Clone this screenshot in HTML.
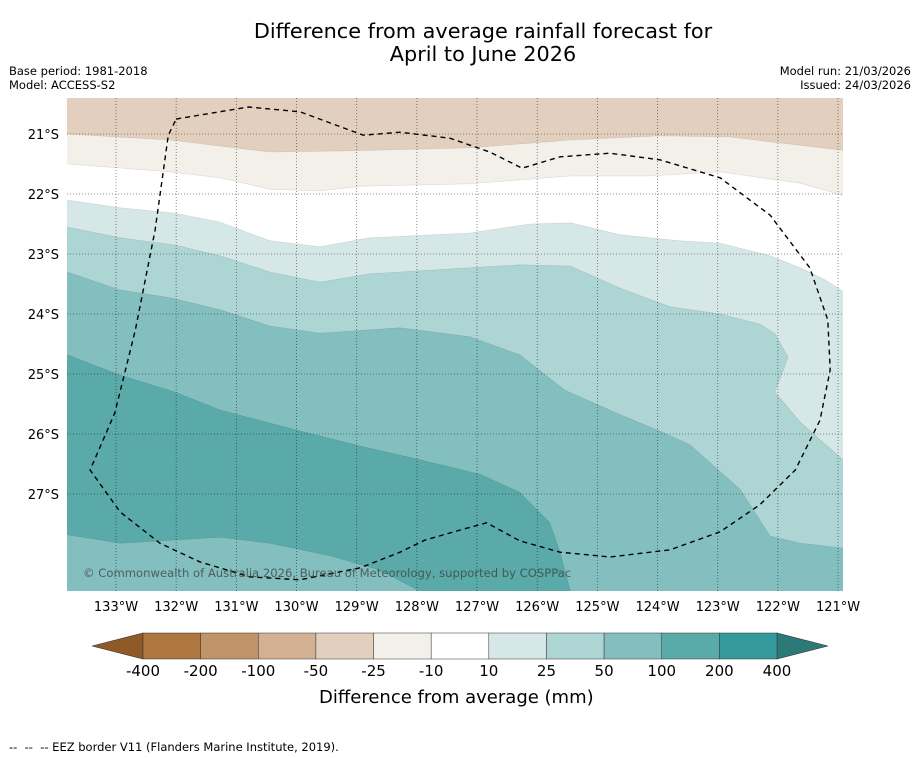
<!DOCTYPE html>
<html><head><meta charset="utf-8"><style>
body{margin:0;background:#fff;font-family:"DejaVu Sans","Liberation Sans",sans-serif;}
svg{display:block}
</style></head><body>
<svg id="c" width="919" height="758" xmlns="http://www.w3.org/2000/svg">
<text x="483" y="38" font-size="20.8" text-anchor="middle">Difference from average rainfall forecast for</text>
<text x="483" y="61" font-size="20.8" text-anchor="middle">April to June 2026</text>
<text x="9" y="75" font-size="11.5">Base period: 1981-2018</text>
<text x="9" y="89" font-size="11.5">Model: ACCESS-S2</text>
<text x="911" y="75" font-size="11.5" text-anchor="end">Model run: 21/03/2026</text>
<text x="911" y="89" font-size="11.5" text-anchor="end">Issued: 24/03/2026</text>
<g id="map"></g>
<g id="cb"></g>
<text x="319" y="703" font-size="18">Difference from average (mm)</text>
<text x="9" y="751" font-size="11.5" xml:space="preserve">--  --  -- EEZ border V11 (Flanders Marine Institute, 2019).</text>
</svg>
<script>
const lonTicks=[133,132,131,130,129,128,127,126,125,124,123,122,121];
const latTicks=[21,22,23,24,25,26,27];
const levels=["-400","-200","-100","-50","-25","-10","10","25","50","100","200","400"];
const levelColors=["#ae773f","#c19368","#d3b092","#e3cfbd","#f3efe9","#ffffff","#d5e8e7","#acd5d4","#84bfbf","#5aaaaa","#33999a"];
const b1Lon=[133.81,132.10,130.44,129.11,127.12,125.45,123.96,122.80,120.92];
const b1Lat=[21.0,21.1,21.3,21.28,21.23,21.1,21.03,21.05,21.27];
const b2Lon=[133.81,132.10,131.27,130.44,129.61,128.94,127.12,125.45,124.13,122.96,121.63,120.92];
const b2Lat=[21.5,21.63,21.73,21.92,21.95,21.87,21.83,21.7,21.7,21.63,21.82,22.02];
const b3Lon=[133.81,132.93,132.02,131.27,130.44,129.61,128.78,127.12,126.12,125.45,124.62,123.63,122.96,122.13,121.63,121.22,120.92];
const b3Lat=[22.1,22.23,22.32,22.47,22.78,22.88,22.73,22.65,22.5,22.48,22.68,22.78,22.82,23.03,23.23,23.43,23.62];
const b4Lon=[133.81,132.93,132.02,131.27,130.44,129.61,128.78,127.12,126.29,125.45,124.62,123.79,122.96,122.30,122.05,121.83,122.05,121.63,120.92];
const b4Lat=[22.55,22.73,22.85,23.03,23.3,23.47,23.33,23.23,23.18,23.2,23.57,23.88,24.0,24.17,24.33,24.72,25.3,25.8,26.43];
const b5Lon=[133.81,132.93,132.10,131.27,130.44,129.61,128.28,127.12,126.29,125.54,124.62,123.96,123.46,122.63,122.13,121.63,120.92];
const b5Lat=[23.3,23.6,23.73,23.93,24.2,24.32,24.23,24.38,24.68,25.27,25.68,25.95,26.18,26.92,27.7,27.82,27.9];
const b6Lon=[133.81,132.93,132.02,131.27,129.94,128.94,127.95,126.95,126.29,125.79,125.62,125.45];
const b6Lat=[24.68,25.02,25.3,25.6,25.95,26.2,26.43,26.67,26.97,27.48,27.97,28.62];
const b7Lon=[133.81,132.93,132.10,131.27,130.44,129.44,128.61,127.95];
const b7Lat=[27.68,27.82,27.77,27.72,27.82,28.03,28.27,28.62];
const eezLon=[132.0,130.8,129.94,128.89,128.28,127.45,126.79,126.25,125.62,124.79,123.96,122.96,122.13,121.47,121.17,121.13,121.30,121.71,122.30,122.96,123.79,124.79,125.62,126.29,126.84,127.28,127.87,128.28,128.94,129.94,130.78,131.61,132.27,132.93,133.43,133.02,132.68,132.35,132.13,132.0];
const eezLat=[20.75,20.55,20.63,21.02,20.97,21.07,21.3,21.57,21.38,21.32,21.43,21.73,22.35,23.23,24.1,24.93,25.77,26.6,27.18,27.63,27.93,28.05,27.97,27.78,27.48,27.6,27.77,27.97,28.23,28.43,28.38,28.13,27.82,27.3,26.6,25.65,24.27,22.6,21.02,20.75];

const X0=67,X1=843,Y0=98,Y1=591;
const xs=lon=>116+(133-lon)*60.17;
const ys=lat=>134+(lat-21)*60;
const NS="http://www.w3.org/2000/svg";
function mk(tag,attrs,parent){const e=document.createElementNS(NS,tag);for(const k in attrs)e.setAttribute(k,attrs[k]);parent.appendChild(e);return e;}
const map=document.getElementById('map');
const clip=mk('clipPath',{id:'mc'},map);mk('rect',{x:X0,y:Y0,width:X1-X0,height:Y1-Y0},clip);
const g=mk('g',{'clip-path':'url(#mc)'},map);
const base=mk('rect',{x:X0,y:Y0,width:X1-X0,height:Y1-Y0,fill:levelColors[3]},g);


function band(lons,lats,color,name){
  let pts=lons.map((l,i)=>xs(l).toFixed(1)+','+ys(lats[i]).toFixed(1));
  const last=lons[lons.length-1];
  pts.push(xs(last).toFixed(1)+','+(Y1+5));
  pts.push(xs(lons[0]).toFixed(1)+','+(Y1+5));
  const p=mk('polygon',{points:pts.join(' '),fill:color,stroke:'rgba(0,0,0,0.12)','stroke-width':0.6},g);
  
  
}
function ext(lons,lats){return [[133.9].concat(lons).concat([120.8]),[lats[0]].concat(lats).concat([lats[lats.length-1]])];}
let a;
a=ext(b1Lon,b1Lat);band(a[0],a[1],levelColors[4],'band-minus25-minus10');
a=ext(b2Lon,b2Lat);band(a[0],a[1],levelColors[5],'band-minus10-10');
a=ext(b3Lon,b3Lat);band(a[0],a[1],levelColors[6],'band-10-25');
a=ext(b4Lon,b4Lat);band(a[0],a[1],levelColors[7],'band-25-50');
a=ext(b5Lon,b5Lat);band(a[0],a[1],levelColors[8],'band-50-100');
band([133.9].concat(b6Lon),[b6Lat[0]].concat(b6Lat),levelColors[9],'band-100-200');
band([133.9].concat(b7Lon),[b7Lat[0]].concat(b7Lat),levelColors[8],'band-50-100-south');
lonTicks.forEach(l=>{
  const x=xs(l);
  const ln=mk('line',{x1:x,y1:Y0,x2:x,y2:Y1,stroke:'rgba(0,0,0,0.55)','stroke-width':0.8,'stroke-dasharray':'1,2'},map);
  
  
  const t=mk('text',{x:x,y:611,'font-size':13,'text-anchor':'middle'},map);t.textContent=l+'°W';
  
  
});
latTicks.forEach(l=>{
  const y=ys(l);
  const ln=mk('line',{x1:X0,y1:y,x2:X1,y2:y,stroke:'rgba(0,0,0,0.55)','stroke-width':0.8,'stroke-dasharray':'1,2'},map);
  
  
  const t=mk('text',{x:59,y:y+5,'font-size':13,'text-anchor':'end'},map);t.textContent=l+'°S';
  
  
});
const ep=mk('polyline',{points:eezLon.map((l,i)=>xs(l).toFixed(1)+','+ys(eezLat[i]).toFixed(1)).join(' '),fill:'none',stroke:'#000','stroke-width':1.4,'stroke-dasharray':'5,4'},g);


const cp=mk('text',{x:83,y:577,'font-size':11.6,fill:'rgba(60,60,60,0.75)'},map);
cp.textContent='© Commonwealth of Australia 2026, Bureau of Meteorology, supported by COSPPac';


const cb=document.getElementById('cb');
const CB0=143,CB1=777,CBY=633,CBH=26,n=levelColors.length;const w=(CB1-CB0)/n;
const lt=mk('polygon',{points:`92,646 ${CB0},${CBY} ${CB0},${CBY+CBH}`,fill:'#8f5a28',stroke:'#333','stroke-width':0.6},cb);


const rt=mk('polygon',{points:`828,646 ${CB1},${CBY} ${CB1},${CBY+CBH}`,fill:'#2c7a78',stroke:'#333','stroke-width':0.6},cb);


levelColors.forEach((c,i)=>{
  const r=mk('rect',{x:CB0+i*w,y:CBY,width:w,height:CBH,fill:c,stroke:'#333','stroke-width':0.5},cb);
  
  
});
levels.forEach((s,i)=>{
  const t=mk('text',{x:CB0+i*w,y:676,'font-size':15,'text-anchor':'middle'},cb);t.textContent=s;
  
  
});
</script>
</body></html>
